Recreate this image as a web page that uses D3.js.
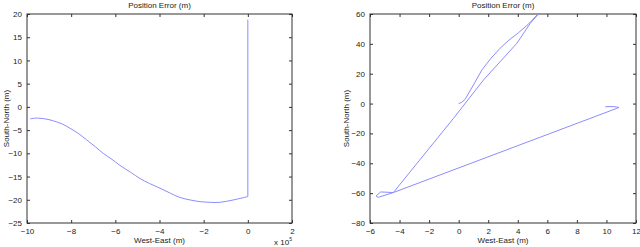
<!DOCTYPE html>
<html>
<head>
<meta charset="utf-8">
<script src="https://cdn.jsdelivr.net/npm/d3@7"></script>
<style>
  body { margin: 0; background: #fff; }
  svg { display: block; font-family: "Liberation Sans", Arial, sans-serif; }
  .tick text { font-size: 8px; fill: #222; }
  .lbl { font-size: 8px; fill: #222; }
</style>
</head>
<body>
<svg width="640" height="247"></svg>
<script>
// left panel: x in units of 1e5 m
var leftX = [-9.86, -9.65, -9.41, -9.1, -8.81, -8.4, -8.05, -7.65, -7.3, -6.9, -6.55, -6.15, -5.79, -5.3, -4.89, -4.45, -3.98, -3.5, -3.08, -2.6, -2.17, -1.7, -1.27, -0.67, 0, 0];
var leftY = [-2.6, -2.42, -2.45, -2.65, -3.0, -3.7, -4.6, -5.8, -7.1, -8.6, -10.0, -11.3, -12.6, -14.1, -15.4, -16.5, -17.5, -18.6, -19.5, -20.05, -20.4, -20.55, -20.55, -20.05, -19.3, 18.8];
var leftXTicks = [-10, -8, -6, -4, -2, 0, 2];
var leftYTicks = [20, 15, 10, 5, 0, -5, -10, -15, -20, -25];

// right panel
var rightX = [0, 0.2, 0.44, 1.0, 1.57, 2.2, 2.8, 3.4, 4.05, 4.7, 5.3, 5.4, 4.84, 3.94, 1.68, -0.35, -4.42, -5.28, -5.59, -5.44, -4.42, 10.7, 10.85, 10.5, 9.92];
var rightY = [0, 0.8, 2.9, 12.5, 22.5, 30.5, 37, 42.5, 47.5, 53, 59.3, 60, 53.7, 40.4, 15.8, -9.9, -59.6, -59.2, -61.9, -62.8, -59.6, -3.2, -2.6, -2.0, -2.1];
var rightXTicks = [-6, -4, -2, 0, 2, 4, 6, 8, 10, 12];
var rightYTicks = [60, 40, 20, 0, -20, -40, -60, -80];

var svg = d3.select("svg");
var top0 = 14, bottom0 = 223, tickLen = 3;

function panel(opts) {
  var x = d3.scaleLinear().domain(opts.xDomain).range([opts.left, opts.right]);
  var y = d3.scaleLinear().domain(opts.yDomain).range([bottom0, top0]);
  var g = svg.append("g");

  // inward ticks on all four sides, MATLAB style
  g.append("g").attr("transform", "translate(0," + bottom0 + ")")
    .call(d3.axisBottom(x).tickValues(opts.xTicks).tickSizeInner(-tickLen).tickSizeOuter(0).tickPadding(5).tickFormat(d3.format("d")));
  g.append("g").attr("transform", "translate(0," + top0 + ")")
    .call(d3.axisTop(x).tickValues(opts.xTicks).tickSizeInner(-tickLen).tickSizeOuter(0).tickFormat(""));
  g.append("g").attr("transform", "translate(" + opts.left + ",0)")
    .call(d3.axisLeft(y).tickValues(opts.yTicks).tickSizeInner(-tickLen).tickSizeOuter(0).tickPadding(5).tickFormat(d3.format("d")));
  g.append("g").attr("transform", "translate(" + opts.right + ",0)")
    .call(d3.axisRight(y).tickValues(opts.yTicks).tickSizeInner(-tickLen).tickSizeOuter(0).tickFormat(""));
  g.selectAll(".domain").remove();
  g.selectAll(".tick line").attr("stroke", "#333");

  g.append("rect")
    .attr("x", opts.left).attr("y", top0)
    .attr("width", opts.right - opts.left).attr("height", bottom0 - top0)
    .attr("fill", "none").attr("stroke", "#333").attr("stroke-width", 1);

  var pts = opts.xs.map(function(d, i) { return [d, opts.ys[i]]; });
  var line = d3.line().x(function(d) { return x(d[0]); }).y(function(d) { return y(d[1]); });
  // smooth part, then the straight tail
  var n = opts.smoothTo || 0;
  if (n > 0) {
    g.append("path").datum(pts.slice(0, n))
      .attr("fill", "none").attr("stroke", "#8c8cff").attr("stroke-width", 1)
      .attr("d", line.curve(d3.curveCatmullRom.alpha(0.5)));
    line.curve(d3.curveLinear);
  }
  g.append("path").datum(pts.slice(Math.max(n - 1, 0)))
    .attr("fill", "none").attr("stroke", "#8c8cff").attr("stroke-width", 1)
    .attr("d", line);

  var cx = (opts.left + opts.right) / 2;
  g.append("text").attr("class", "lbl").attr("x", cx).attr("y", 8).attr("text-anchor", "middle").text("Position Error (m)");
  g.append("text").attr("class", "lbl").attr("x", cx).attr("y", 243).attr("text-anchor", "middle").text("West-East (m)");
  g.append("text").attr("class", "lbl")
    .attr("transform", "translate(" + opts.yLabelX + "," + ((top0 + bottom0) / 2) + ") rotate(-90)")
    .attr("text-anchor", "middle").text("South-North (m)");
  return g;
}

var gl = panel({
  left: 27, right: 292, xDomain: [-10, 2], yDomain: [-25, 20],
  xTicks: leftXTicks, yTicks: leftYTicks, xs: leftX, ys: leftY, yLabelX: 9,
  smoothTo: leftX.length - 1
});
var ex = gl.append("text").attr("class", "lbl").attr("x", 274).attr("y", 245).attr("font-size", "7px");
ex.append("tspan").text("x 10");
ex.append("tspan").attr("dy", -4).attr("font-size", "5px").text("5");

panel({
  left: 370, right: 636, xDomain: [-6, 12], yDomain: [-80, 60],
  xTicks: rightXTicks, yTicks: rightYTicks, xs: rightX, ys: rightY, yLabelX: 349
});
</script>
</body>
</html>
